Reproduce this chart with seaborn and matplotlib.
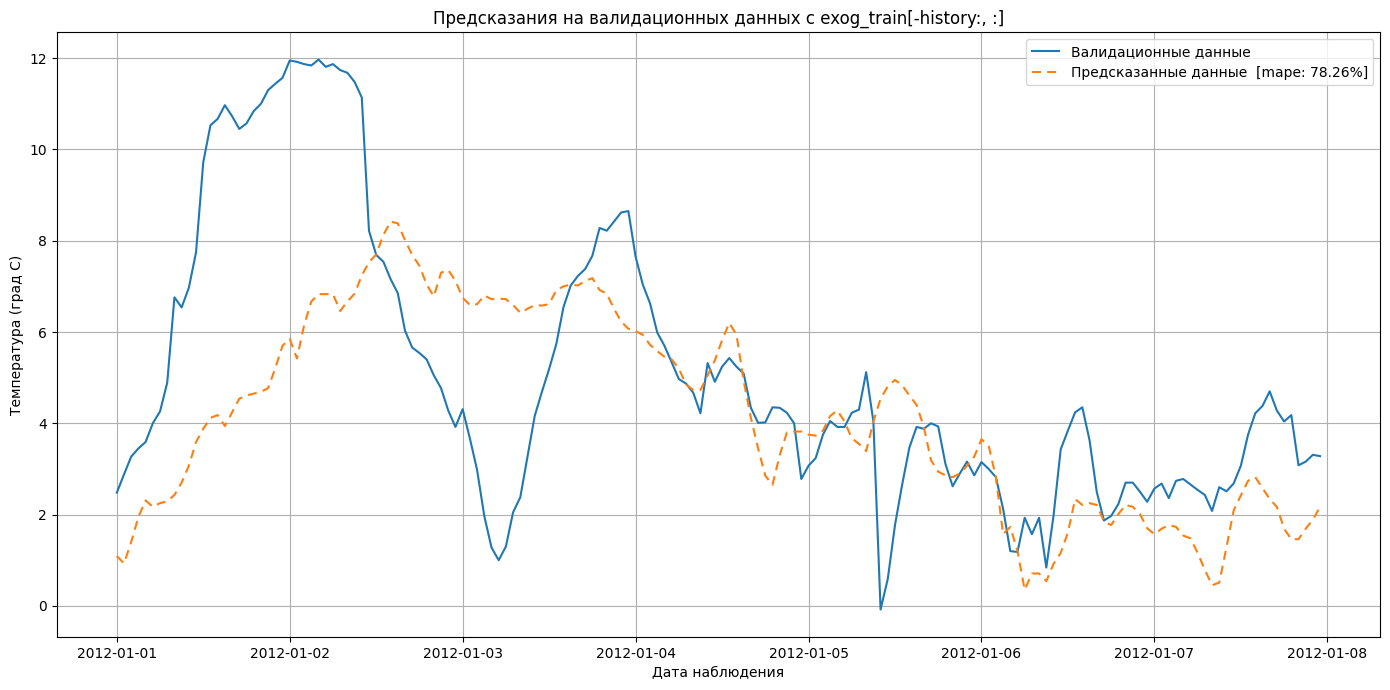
import matplotlib
matplotlib.use("Agg")
import matplotlib.pyplot as plt
import matplotlib.dates as mdates
import seaborn as sns
import pandas as pd

# === Data (hourly, 2012-01-01 00:00 .. 2012-01-07 23:00) ===
START_DATE = "2012-01-01 00:00"
N_HOURS = 168

validation_temp = [
    2.48, 2.88, 3.27, 3.45, 3.59, 4.00, 4.26, 4.89, 6.76, 6.54, 6.97, 7.75,
    9.72, 10.53, 10.67, 10.97, 10.73, 10.45, 10.57, 10.84, 11.00, 11.30, 11.44, 11.57,
    11.95, 11.92, 11.87, 11.84, 11.97, 11.81, 11.87, 11.74, 11.68, 11.48, 11.14, 8.22,
    7.69, 7.54, 7.16, 6.85, 6.03, 5.66, 5.54, 5.40, 5.05, 4.77, 4.28, 3.92,
    4.31, 3.67, 2.98, 1.97, 1.28, 1.00, 1.30, 2.05, 2.38, 3.27, 4.16, 4.69,
    5.19, 5.74, 6.55, 7.02, 7.23, 7.38, 7.67, 8.28, 8.22, 8.42, 8.62, 8.65,
    7.65, 7.04, 6.63, 5.99, 5.70, 5.34, 4.97, 4.87, 4.67, 4.22, 5.32, 4.91,
    5.24, 5.43, 5.24, 5.09, 4.34, 4.01, 4.02, 4.35, 4.34, 4.23, 4.00, 2.78,
    3.07, 3.24, 3.75, 4.05, 3.92, 3.92, 4.23, 4.30, 5.12, 4.04, -0.08, 0.59,
    1.77, 2.66, 3.47, 3.92, 3.88, 4.00, 3.93, 3.11, 2.62, 2.90, 3.16, 2.86,
    3.15, 3.00, 2.82, 2.13, 1.20, 1.18, 1.93, 1.57, 1.93, 0.84, 1.97, 3.43,
    3.84, 4.24, 4.35, 3.63, 2.50, 1.87, 1.97, 2.23, 2.70, 2.70, 2.50, 2.28,
    2.57, 2.68, 2.36, 2.74, 2.78, 2.66, 2.54, 2.43, 2.08, 2.60, 2.51, 2.68,
    3.07, 3.75, 4.22, 4.38, 4.70, 4.28, 4.04, 4.18, 3.08, 3.16, 3.31, 3.28,
]

predicted_temp = [
    1.09, 0.93, 1.40, 1.95, 2.31, 2.17, 2.25, 2.29, 2.43, 2.70, 3.07, 3.59,
    3.88, 4.12, 4.18, 3.94, 4.24, 4.54, 4.61, 4.65, 4.69, 4.77, 5.21, 5.70,
    5.85, 5.42, 6.15, 6.67, 6.83, 6.83, 6.83, 6.46, 6.67, 6.84, 7.24, 7.53,
    7.70, 8.13, 8.42, 8.38, 8.01, 7.69, 7.45, 7.04, 6.78, 7.30, 7.36, 7.12,
    6.75, 6.59, 6.61, 6.80, 6.72, 6.73, 6.72, 6.59, 6.42, 6.51, 6.59, 6.58,
    6.61, 6.92, 7.00, 7.04, 7.02, 7.12, 7.18, 6.92, 6.84, 6.51, 6.23, 6.07,
    6.02, 5.94, 5.72, 5.58, 5.46, 5.40, 5.20, 4.85, 4.73, 4.73, 5.05, 5.38,
    5.82, 6.20, 5.94, 4.93, 4.12, 3.45, 2.85, 2.65, 3.30, 3.80, 3.82, 3.82,
    3.75, 3.73, 3.84, 4.16, 4.28, 4.04, 3.67, 3.55, 3.39, 4.04, 4.54, 4.81,
    4.95, 4.83, 4.61, 4.40, 3.92, 3.19, 2.94, 2.86, 2.82, 2.90, 3.07, 3.27,
    3.65, 3.51, 2.82, 1.57, 1.73, 1.20, 0.35, 0.71, 0.71, 0.54, 0.92, 1.16,
    1.61, 2.34, 2.21, 2.25, 2.21, 1.85, 1.77, 2.01, 2.21, 2.17, 2.01, 1.70,
    1.57, 1.69, 1.77, 1.73, 1.54, 1.48, 1.16, 0.79, 0.45, 0.51, 1.28, 2.09,
    2.42, 2.74, 2.82, 2.58, 2.34, 2.17, 1.69, 1.46, 1.46, 1.69, 1.89, 2.17,
]

mape_value = 78.26

TITLE = "Предсказания на валидационных данных с exog_train[-history:, :]"
X_LABEL = "Дата наблюдения"
Y_LABEL = "Температура (град C)"
LABEL_VALID = "Валидационные данные"
LABEL_PRED = f"Предсказанные данные  [mape: {mape_value}%]"


def plot_chart():
    dates = pd.date_range(START_DATE, periods=N_HOURS, freq="h")
    df = pd.DataFrame({"date": dates, "valid": validation_temp, "pred": predicted_temp})

    fig, ax = plt.subplots(figsize=(13.9, 6.9), dpi=100)
    sns.lineplot(data=df, x="date", y="valid", ax=ax, color="#1f77b4",
                 linewidth=1.5, label=LABEL_VALID)
    # longer dash pattern than the mpl default, as in the original
    sns.lineplot(data=df, x="date", y="pred", ax=ax, color="#ff7f0e",
                 linewidth=1.5, linestyle=(0, (4.3, 3.0)), label=LABEL_PRED)

    ax.xaxis.set_major_locator(mdates.DayLocator())
    ax.xaxis.set_major_formatter(mdates.DateFormatter("%Y-%m-%d"))
    ax.grid(True)
    ax.set_title(TITLE)
    ax.set_xlabel(X_LABEL)
    ax.set_ylabel(Y_LABEL)
    ax.legend(loc="upper right")

    fig.tight_layout(pad=0.7)
    fig.savefig("out.png")
    plt.close(fig)


if __name__ == "__main__":
    plot_chart()
